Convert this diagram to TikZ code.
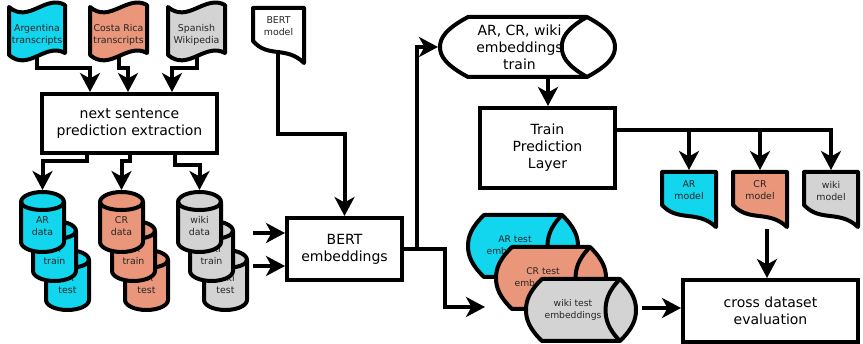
\documentclass[tikz,border=0pt]{standalone}
\usepackage{fontspec}
\setmainfont{DejaVu Sans}
\usetikzlibrary{arrows.meta,calc}
\definecolor{cyanF}{HTML}{12D6EE}
\definecolor{salmonF}{HTML}{E9967A}
\definecolor{grayF}{HTML}{D3D3D3}
\tikzset{
  shapeline/.style={draw=black, line width=4pt, line join=round},
  box/.style={draw=black, line width=4pt, fill=white, align=center, inner sep=0pt, font=\fontsize{14}{17}\selectfont},
  bigtext/.style={align=center, inner sep=0pt, font=\fontsize{14}{17}\selectfont},
  smalltext/.style={align=center, inner sep=0pt, font=\fontsize{9.4}{12}\selectfont, text=black!85},
  midtext/.style={align=center, inner sep=0pt, font=\fontsize{9.2}{12}\selectfont, text=black!85},
  conn/.style={line width=4pt},
  arr/.style={line width=4pt, -{Stealth[length=19pt,width=20pt,inset=5.5pt]}},
}
% punched tape: name x0 ytop x1 height fill text
\newcommand{\tapeShape}[7]{%
  \path[shapeline, fill=#6] (#2,#3) .. controls ({#2+0.35*(#4-#2)},{#3+17}) and ({#2+0.65*(#4-#2)},{#3-13}) .. (#4,{#3-2})
    -- (#4,{#3-2+#5}) .. controls ({#2+0.65*(#4-#2)},{#3-13+#5}) and ({#2+0.35*(#4-#2)},{#3+17+#5}) .. (#2,{#3+#5}) -- cycle;
  \node[smalltext] (#1) at ({(#2+#4)/2},{#3+#5/2+4}) {#7};
  \coordinate (#1b) at ({(#2+#4)/2},{#3+#5});
}
% cylinder: name x0 y0 x1 y1 fill text
\newcommand{\cylShape}[7]{%
  \path[shapeline, fill=#6] (#2,{#3+10}) .. controls (#2,{#3+4.5}) and ({(#2+#4)/2-0.276*(#4-#2)},#3) .. ({(#2+#4)/2},#3)
    .. controls ({(#2+#4)/2+0.276*(#4-#2)},#3) and (#4,{#3+4.5}) .. (#4,{#3+10})
    -- (#4,{#5-10}) .. controls (#4,{#5-4.5}) and ({(#2+#4)/2+0.276*(#4-#2)},#5) .. ({(#2+#4)/2},#5)
    .. controls ({(#2+#4)/2-0.276*(#4-#2)},#5) and (#2,{#5-4.5}) .. (#2,{#5-10}) -- cycle;
  \draw[shapeline] (#2,{#3+10}) .. controls (#2,{#3+14.4}) and ({(#2+#4)/2-0.276*(#4-#2)},{#3+18}) .. ({(#2+#4)/2},{#3+18})
    .. controls ({(#2+#4)/2+0.276*(#4-#2)},{#3+18}) and (#4,{#3+14.4}) .. (#4,{#3+10});
  \node[smalltext] (#1) at ({(#2+#4)/2},{(#3+#5)/2+4}) {#7};
  \coordinate (#1t) at ({(#2+#4)/2},{#3-2});
}
% document: name x0 y0 x1 yL yR fill text
\newcommand{\docShape}[8]{%
  \path[shapeline, fill=#7] (#2,#3) -- (#4,#3) -- (#4,#6)
    .. controls ({#2+0.65*(#4-#2)},{#5+0.2*(#6-#5)}) and ({#2+0.3*(#4-#2)},{#5+0.8*(#6-#5)}) .. (#2,#5) -- cycle;
  \node[smalltext] (#1) at ({(#2+#4)/2},{(#3+#5)/2+2}) {#8};
  \coordinate (#1t) at ({(#2+#4)/2},{#3-2});
  \coordinate (#1b) at ({(#2+#4)/2-1},{(#5+#6)/2-2});
}
% direct access storage: name x0 y0 x1 y1 c fill style text
\newcommand{\storShape}[9]{%
  \path[shapeline, fill=#7] ({#2+#6},#3) -- ({#4-#6},#3)
    .. controls ({#4-0.2*#6},{#3+0.2*(#5-#3)}) and (#4,{#3+0.35*(#5-#3)}) .. (#4,{(#3+#5)/2})
    .. controls (#4,{#3+0.65*(#5-#3)}) and ({#4-0.2*#6},{#3+0.8*(#5-#3)}) .. ({#4-#6},#5)
    -- ({#2+#6},#5)
    .. controls ({#2+0.2*#6},{#3+0.8*(#5-#3)}) and (#2,{#3+0.65*(#5-#3)}) .. (#2,{(#3+#5)/2})
    .. controls (#2,{#3+0.35*(#5-#3)}) and ({#2+0.2*#6},{#3+0.2*(#5-#3)}) .. ({#2+#6},#3) -- cycle;
  \draw[shapeline] ({#4-#6},#3)
    .. controls ({#4-1.75*#6},{#3+0.2*(#5-#3)}) and ({#4-1.9*#6},{#3+0.35*(#5-#3)}) .. ({#4-1.9*#6},{(#3+#5)/2})
    .. controls ({#4-1.9*#6},{#3+0.65*(#5-#3)}) and ({#4-1.75*#6},{#3+0.8*(#5-#3)}) .. ({#4-#6},#5);
  \node[#8] (#1) at ({(#2+#4)/2-8},{(#3+#5)/2}) {#9};
}
\begin{document}
\begin{tikzpicture}[x=1pt,y=-1pt]
\useasboundingbox (0,0) rectangle (863,344);

% sources
\tapeShape{arg}{9}{7}{65}{48}{cyanF}{Argentina\\transcripts}
\tapeShape{cr}{90}{7}{147}{48}{salmonF}{Costa Rica\\transcripts}
\tapeShape{wiki}{168}{7}{225}{48}{grayF}{Spanish\\Wikipedia}

\node[box, minimum width=175pt, minimum height=59pt] (nse) at (129.5,123.5) {next sentence\\prediction extraction};

\draw[arr] (argb) |- (90,68) -- (90,68 |- nse.north);
\draw[arr] (crb) |- (128,68) -- (128,68 |- nse.north);
\draw[arr] (wikib) |- (172,68) -- (172,68 |- nse.north);

% cylinders
\cylShape{artest}{46}{250}{89}{310}{cyanF}{AR\\test}
\cylShape{artrain}{33}{221}{76}{281}{cyanF}{AR\\train}
\cylShape{ardata}{21}{192}{64}{252}{cyanF}{AR\\data}
\cylShape{crtest}{125}{250}{168}{310}{salmonF}{CR\\test}
\cylShape{crtrain}{112}{221}{155}{281}{salmonF}{CR\\train}
\cylShape{crdata}{100}{192}{143}{252}{salmonF}{CR\\data}
\cylShape{wikitest}{204}{250}{247}{310}{grayF}{wiki\\test}
\cylShape{wikitrain}{190}{221}{233}{281}{grayF}{wiki\\train}
\cylShape{wikidata}{178}{192}{221}{252}{grayF}{wiki\\data}

\draw[arr] (87,0 |- nse.south) |- (ardatat |- 0,161) -- (ardatat);
\draw[arr] (130,0 |- nse.south) |- (crdatat |- 0,161) -- (crdatat);
\draw[arr] (175,0 |- nse.south) |- (wikidatat |- 0,165) -- (wikidatat);

% BERT
\docShape{bert}{253}{8}{304}{41}{63}{white}{BERT\\model}
\node[box, minimum width=115pt, minimum height=62pt] (bemb) at (344.5,249) {BERT\\embeddings};
\draw[arr] (bertb) |- (bemb.north |- 0,134) -- (bemb.north);
\coordinate (in1) at (253,233);
\coordinate (in2) at (253,266);
\draw[arr] (in1) -- (bemb.west |- in1);
\draw[arr] (in2) -- (bemb.west |- in2);

% training branch
\storShape{trn}{440}{17}{615}{77}{28}{white}{bigtext}{AR, CR, wiki\\embeddings\\train}
\coordinate (trnW) at (438,47);
\coordinate (trnS) at (548,79);
\draw[arr] (bemb.east) -- (417,249) |- (trnW);

\node[box, minimum width=135pt, minimum height=80pt] (tpl) at (547.5,148) {Train\\Prediction\\Layer};
\draw[arr] (trnS) -- (trnS |- tpl.north);

\docShape{arm}{662}{172}{716}{205}{227}{cyanF}{AR\\model}
\docShape{crm}{733}{172}{787}{205}{227}{salmonF}{CR\\model}
\docShape{wikim}{804}{172}{858}{205}{227}{grayF}{wiki\\model}

\draw[arr] (tpl.east |- 0,130) -| (wikimt);
\draw[arr] (armt |- 0,130) -- (armt);
\draw[arr] (crmt |- 0,130) -- (crmt);

% test branch
\storShape{art}{468}{215}{578}{277}{16}{cyanF}{midtext}{AR test\\embeddings}
\storShape{crt}{496}{247}{606}{309}{16}{salmonF}{midtext}{CR test\\embeddings}
\storShape{wikit}{526}{279}{636}{341}{16}{grayF}{midtext}{wiki test\\embeddings}

\coordinate (tstTip) at (485,307);
\draw[arr] (bemb.east) -- (445,249) |- (tstTip);

\node[box, minimum width=175pt, minimum height=62pt] (ceval) at (770.5,311) {cross dataset\\evaluation};
\coordinate (wtE) at (642,308);
\draw[arr] (wtE) -- (ceval.west |- wtE);
\coordinate (crmB) at (767,229);
\draw[arr] (crmB) -- (crmB |- ceval.north);
\end{tikzpicture}
\end{document}
